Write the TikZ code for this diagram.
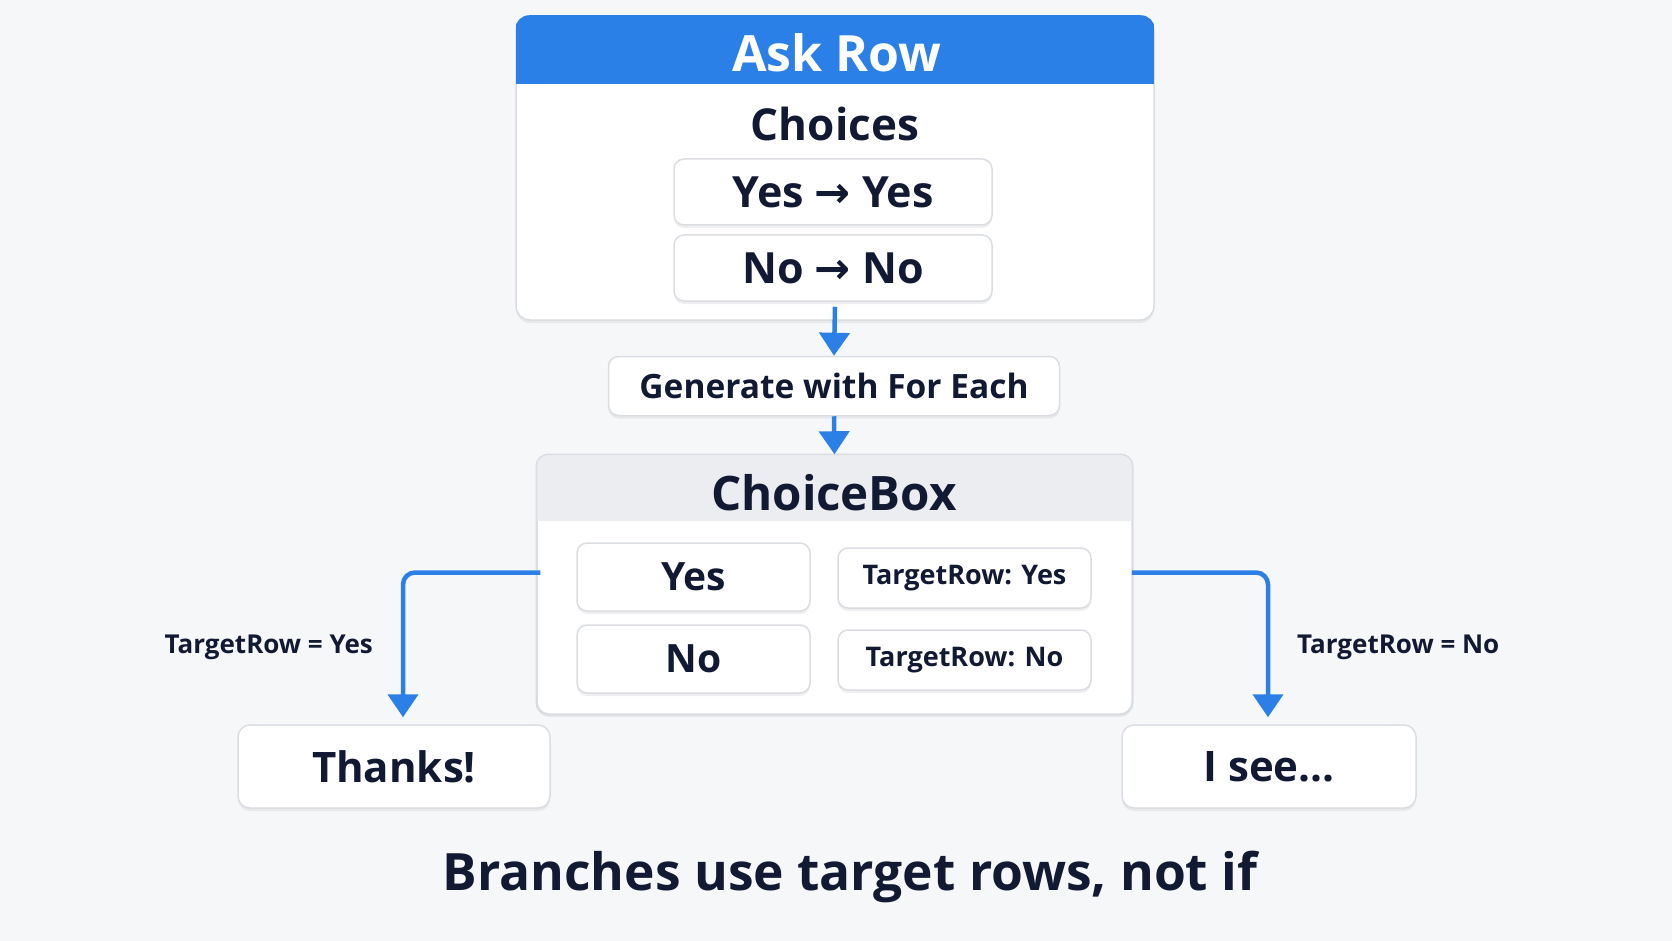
\documentclass[tikz,border=0pt]{standalone}
\usepackage{fontspec}
\setmainfont{Open Sans}
\newfontfamily\arrowfont{DejaVu Sans}
\usetikzlibrary{arrows.meta,shadows}

\definecolor{bg}{HTML}{F6F7F9}
\definecolor{ink}{HTML}{121A33}
\definecolor{accent}{HTML}{2B80E8}
\definecolor{edge}{HTML}{DADDE2}
\definecolor{band}{HTML}{ECEDF0}

\newcommand{\fsz}[1]{\bfseries\fontsize{#1}{#1}\selectfont}
\newcommand{\rarr}{{\arrowfont\bfseries →}}

\tikzset{
  card/.style={draw=edge, line width=1.5pt, fill=white, rounded corners=10pt,
    inner sep=0pt, text=ink,
    drop shadow={shadow xshift=0pt, shadow yshift=-3pt, opacity=0.10, fill=black!60}},
  txt/.style={text=ink, inner sep=0pt},
  flow/.style={draw=accent, line width=4.5pt, rounded corners=12pt,
    -{Triangle[width=30pt,length=23pt]}}
}

\begin{document}
\begin{tikzpicture}[x=1pt,y=-1pt]
\useasboundingbox (0,0) rectangle (1672,941);
\fill[bg] (0,0) rectangle (1672,941);

% ask row card
\node[card, rounded corners=14pt, minimum width=638pt, minimum height=304pt] at (835,168) (ask){};
\begin{scope}
\clip[rounded corners=14pt] (ask.south west) rectangle (ask.north east);
\fill[accent] (516,0) rectangle (1154,84);
\end{scope}
\node[txt, text=white, font=\fsz{50}] at (837,53) (asktitle){Ask Row};
\node[txt, font=\fsz{44}] at (835,124) (choices){Choices};
\node[card, minimum width=318pt, minimum height=66pt, font=\fsz{43}] at (833,192) (yy){Yes \rarr{} Yes};
\node[card, minimum width=318pt, minimum height=66pt, font=\fsz{43}] at (833,268) (nn){No \rarr{} No};

\node[card, minimum width=451pt, minimum height=59pt, font=\fsz{33.5}] at (834,386) (gen){Generate with For Each};

% choicebox card
\node[card, rounded corners=12pt, minimum width=595pt, minimum height=259pt] at (834.5,584.5) (cbox){};
\begin{scope}
\clip[rounded corners=12pt] (cbox.south west) rectangle (cbox.north east);
\fill[band] (537,450) rectangle (1132,521);
\end{scope}
\draw[edge, line width=1.5pt, rounded corners=12pt] (cbox.south west) rectangle (cbox.north east);
\node[txt, font=\fsz{47.5}] at (834,493) (cbtitle){ChoiceBox};

\node[card, minimum width=233pt, minimum height=68pt, font=\fsz{39}] at (693.5,577) (yes){Yes};
\node[card, minimum width=233pt, minimum height=68pt, font=\fsz{39}] at (693.5,659) (no){No};
\node[card, minimum width=253pt, minimum height=60pt, font=\fsz{27}] at (964.5,578) (tyes){TargetRow: Yes};
\node[card, minimum width=253pt, minimum height=60pt, font=\fsz{27}] at (964.5,660) (tno){TargetRow: No};

\node[card, rounded corners=12pt, minimum width=312pt, minimum height=83pt, font=\fsz{42}] at (394,766.5) (thanks){Thanks!};
\node[card, rounded corners=12pt, minimum width=294pt, minimum height=83pt, font=\fsz{42}] at (1269,766.5) (isee){I see...};

\node[txt, anchor=east, font=\fsz{26}] at (373,647) (lblyes){TargetRow = Yes};
\node[txt, anchor=west, font=\fsz{26}] at (1297,647) (lblno){TargetRow = No};

\node[txt, anchor=base, font=\fsz{51.5}] at (850,890) (caption){Branches use target rows, not if};

% connectors
\draw[flow] ([yshift=14pt]ask.south) -- (gen.north);
\draw[flow] (gen.south) -- (cbox.north);
\draw[flow] ([xshift=4pt,yshift=12pt]cbox.west) -| ([xshift=9pt,yshift=7pt]thanks.north);
\draw[flow] ([xshift=-1pt,yshift=12pt]cbox.east) -| ([xshift=-1pt,yshift=7pt]isee.north);
\end{tikzpicture}
\end{document}
